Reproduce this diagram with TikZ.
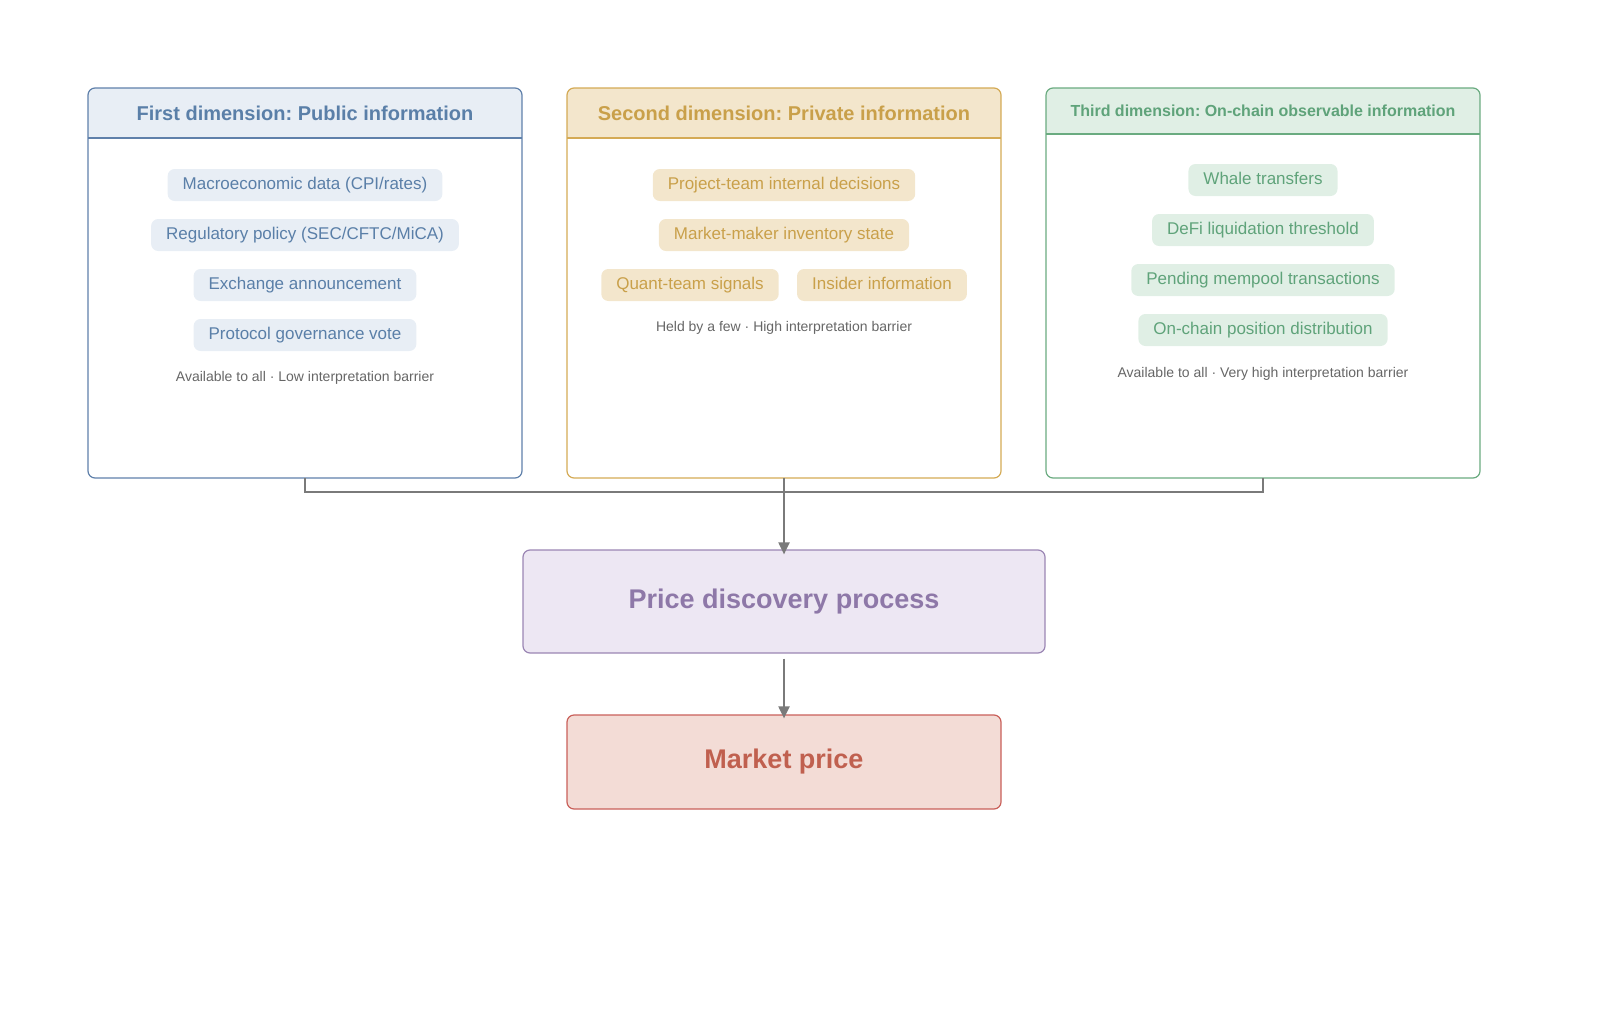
\documentclass[tikz,border=0pt]{standalone}
\usepackage{fontspec}
\setmainfont{Liberation Sans}
\usetikzlibrary{arrows.meta}
\frenchspacing
\definecolor{bT}{HTML}{5A7FA8}\definecolor{bF}{HTML}{E8EEF5}\definecolor{bB}{HTML}{5F80AA}
\definecolor{yT}{HTML}{C9A04A}\definecolor{yF}{HTML}{F3E6CC}\definecolor{yB}{HTML}{D4AA55}
\definecolor{gT}{HTML}{5FA37A}\definecolor{gF}{HTML}{E0EFE5}\definecolor{gB}{HTML}{6AAB80}
\definecolor{pT}{HTML}{8E78A8}\definecolor{pF}{HTML}{EDE7F3}\definecolor{pB}{HTML}{9B86B4}
\definecolor{rT}{HTML}{C0604F}\definecolor{rF}{HTML}{F3DCD6}\definecolor{rB}{HTML}{C9605A}
\definecolor{capc}{HTML}{666666}\definecolor{conn}{HTML}{7A7A7A}
\begin{document}
\begin{tikzpicture}[x=1pt,y=-1pt,
 pill/.style={rounded corners=7pt,minimum height=32pt,inner xsep=15pt,text height=12.5pt,text depth=3.5pt,font=\fontsize{17}{20}\selectfont},
 captxt/.style={text=capc,font=\fontsize{14}{17}\selectfont},
 conn/.style={draw=conn,line width=2pt},
 arr/.style={conn,-{Triangle[length=12pt,width=11pt]}}]
\useasboundingbox (0,0) rectangle (1600,1022);
% box 1
\begin{scope}\clip[rounded corners=7pt] (88,88) rectangle (522,478);
\fill[bF] (88,88) rectangle (522,138);\end{scope}
\draw[bB,line width=1.2pt,rounded corners=7pt] (88,88) rectangle (522,478);
\draw[bB,line width=1.2pt] (88,138)--(522,138);
\node[text=bT,font=\bfseries\fontsize{20}{24}\selectfont] (h1) at (305,113) {First dimension: Public information};
\node[pill,fill=bF,text=bT] (a1) at (305,185) {Macroeconomic data (CPI/rates)};
\node[pill,fill=bF,text=bT] (a2) at (305,235) {Regulatory policy (SEC/CFTC/MiCA)};
\node[pill,fill=bF,text=bT] (a3) at (305,285) {Exchange announcement};
\node[pill,fill=bF,text=bT] (a4) at (305,335) {Protocol governance vote};
\node[captxt] (c1) at (305,378) {Available to all · Low interpretation barrier};
% box 2
\begin{scope}\clip[rounded corners=7pt] (567,88) rectangle (1001,478);
\fill[yF] (567,88) rectangle (1001,138);\end{scope}
\draw[yB,line width=1.2pt,rounded corners=7pt] (567,88) rectangle (1001,478);
\draw[yB,line width=1.2pt] (567,138)--(1001,138);
\node[text=yT,font=\bfseries\fontsize{20}{24}\selectfont] (h2) at (784,113) {Second dimension: Private information};
\node[pill,fill=yF,text=yT] (b1) at (784,185) {Project-team internal decisions};
\node[pill,fill=yF,text=yT] (b2) at (784,235) {Market-maker inventory state};
\node[pill,fill=yF,text=yT] (b3) at (690,285) {Quant-team signals};
\node[pill,fill=yF,text=yT] (b4) at (882,285) {Insider information};
\node[captxt] (c2) at (784,328) {Held by a few · High interpretation barrier};
% box 3
\begin{scope}\clip[rounded corners=7pt] (1046,88) rectangle (1480,478);
\fill[gF] (1046,88) rectangle (1480,134);\end{scope}
\draw[gB,line width=1.2pt,rounded corners=7pt] (1046,88) rectangle (1480,478);
\draw[gB,line width=1.2pt] (1046,134)--(1480,134);
\node[text=gT,font=\bfseries\fontsize{16}{19}\selectfont] (h3) at (1263,111) {Third dimension: On-chain observable information};
\node[pill,fill=gF,text=gT] (g1) at (1263,180) {Whale transfers};
\node[pill,fill=gF,text=gT] (g2) at (1263,230) {DeFi liquidation threshold};
\node[pill,fill=gF,text=gT] (g3) at (1263,280) {Pending mempool transactions};
\node[pill,fill=gF,text=gT] (g4) at (1263,330) {On-chain position distribution};
\node[captxt] (c3) at (1263,374) {Available to all · Very high interpretation barrier};
% bottom boxes
\node[draw=pB,fill=pF,line width=1.2pt,rounded corners=7pt,minimum width=522pt,minimum height=103pt,text=pT,font=\bfseries\fontsize{27}{32}\selectfont] (pd) at (784,601.5) {Price discovery process};
\node[draw=rB,fill=rF,line width=1.2pt,rounded corners=7pt,minimum width=434pt,minimum height=94pt,text=rT,font=\bfseries\fontsize{27}{32}\selectfont] (mp) at (784,762) {Market price};
\coordinate (s1) at (305,478);\coordinate (s2) at (784,478);\coordinate (s3) at (1263,478);
\draw[conn] (s1)--(305,492)--(1263,492)--(s3);
\draw[arr] (s2)--([yshift=-5pt]pd.north);
\draw[arr] ([yshift=-5pt]pd.south)--([yshift=-4pt]mp.north);
\end{tikzpicture}
\end{document}
